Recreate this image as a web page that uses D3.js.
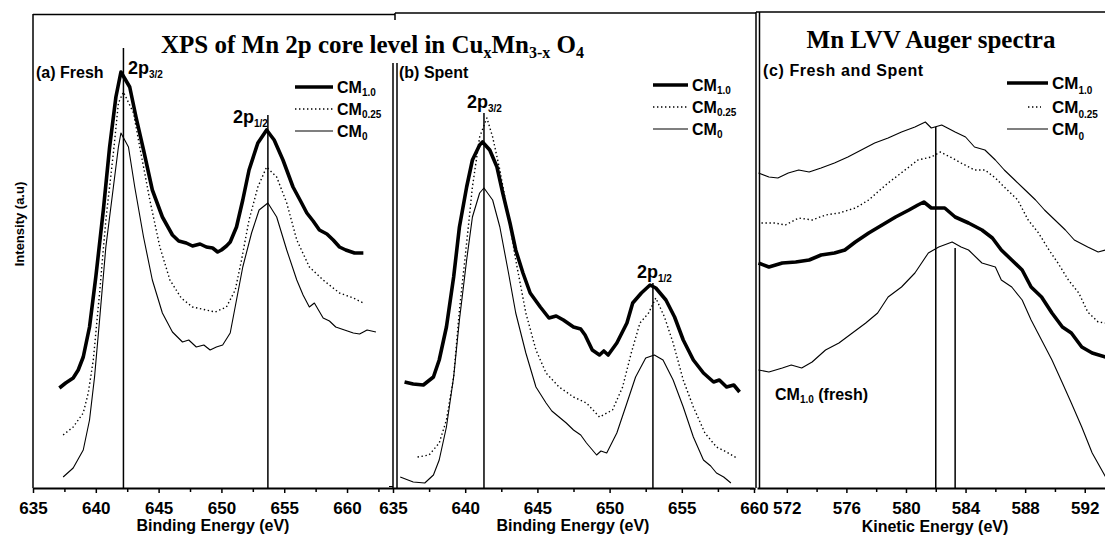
<!DOCTYPE html>
<html>
<head>
<meta charset="utf-8">
<script src="https://cdnjs.cloudflare.com/ajax/libs/d3/7.8.5/d3.min.js"></script>
<style>
  body { margin: 0; background: #fff; }
  text { font-family: "Liberation Sans", Arial, sans-serif; font-weight: bold; fill: #000; }
  .serif { font-family: "Liberation Serif", "Times New Roman", serif; }
</style>
</head>
<body>
<svg id="chart" width="1105" height="535"></svg>
<script>
"use strict";

// tick labels
var bindingTicks = [635, 640, 645, 650, 655, 660];
var bindingMinorA = [637.5, 642.5, 647.5, 652.5, 657.5, 662.5];
var bindingMinorB = [637.5, 642.5, 647.5, 652.5, 657.5];
var kineticTicks = [572, 576, 580, 584, 588, 592];
var kineticMinor = [574, 578, 582, 586, 590];

// (a) fresh, Mn 2p  [binding energy eV, intensity a.u.]
var freshCM10 = [[637.1,20.0],[637.6,21.0],[638.2,22.0],[638.6,23.6],[639.0,26.2],[639.5,32.2],[640.0,42.2],[640.6,55.6],[641.1,68.2],[641.6,78.2],[642.0,83.2],[642.7,80.2],[643.2,74.2],[643.8,67.6],[644.5,59.6],[645.3,54.2],[646.1,50.6],[646.6,49.4],[647.2,49.0],[647.7,48.4],[648.3,48.8],[648.8,48.2],[649.3,48.0],[649.7,47.2],[650.0,47.6],[650.4,48.4],[650.7,49.2],[651.2,52.2],[651.7,57.6],[652.2,63.6],[652.9,69.0],[653.6,71.6],[654.2,69.6],[654.9,65.6],[655.7,60.2],[656.3,57.4],[656.8,55.0],[657.3,53.4],[657.8,51.6],[658.4,50.8],[658.9,49.6],[659.4,48.2],[659.9,47.6],[660.6,47.0],[661.3,47.0]];
var freshCM025 = [[637.4,10.6],[638.2,12.2],[639.0,15.0],[639.4,19.0],[639.8,25.6],[640.3,39.0],[640.8,53.6],[641.4,67.0],[641.8,77.0],[642.2,79.2],[643.0,75.0],[643.5,68.2],[644.3,57.6],[645.1,48.2],[645.9,41.6],[646.8,38.0],[647.7,36.2],[648.8,35.6],[649.5,35.2],[650.4,36.2],[651.1,39.6],[651.6,45.6],[652.2,53.6],[652.9,60.2],[653.6,64.2],[654.4,62.2],[655.2,57.0],[656.0,49.6],[657.0,44.2],[658.1,41.6],[659.4,39.0],[660.5,38.0],[661.3,37.0]];
var freshCM0 = [[637.4,2.2],[638.2,4.0],[639.0,7.6],[639.5,13.6],[639.9,22.2],[640.3,33.6],[640.8,48.2],[641.4,60.2],[641.8,68.2],[642.0,71.0],[642.6,68.2],[643.1,60.2],[643.8,50.2],[644.5,41.6],[645.3,35.0],[646.1,31.2],[646.9,29.2],[647.4,29.6],[648.0,28.2],[648.6,28.6],[649.1,27.6],[649.6,28.2],[650.1,28.6],[650.7,31.0],[651.2,37.6],[651.7,44.2],[652.4,51.0],[653.0,55.6],[653.7,57.0],[654.4,54.2],[655.2,47.6],[656.0,41.6],[656.5,38.6],[657.0,36.2],[657.4,37.0],[658.1,34.0],[658.6,33.4],[659.1,32.2],[659.8,31.6],[660.5,31.0],[661.0,30.8],[661.6,31.6],[662.3,31.2]];

// (b) spent, Mn 2p
var spentCM10 = [[635.8,21.2],[636.4,20.8],[637.1,20.6],[637.8,22.2],[638.2,25.6],[638.7,32.2],[639.2,42.2],[639.6,52.2],[640.1,60.2],[640.5,65.6],[641.0,68.6],[641.2,69.2],[641.7,67.6],[642.2,64.2],[642.6,59.0],[643.1,53.0],[643.5,47.6],[644.0,43.0],[644.5,39.0],[645.2,36.2],[645.8,34.0],[646.3,34.4],[646.8,33.6],[647.5,32.2],[648.0,31.8],[648.3,30.6],[648.8,27.6],[649.3,26.6],[649.6,27.4],[649.9,26.6],[650.5,29.0],[651.2,33.0],[651.6,37.0],[652.2,39.0],[652.8,40.6],[653.2,40.0],[653.9,37.6],[654.5,34.2],[655.1,29.6],[655.8,25.6],[656.5,23.0],[657.2,21.2],[657.6,21.6],[658.1,20.2],[658.6,20.6],[659.0,19.2]];
var spentCM025 = [[636.7,6.2],[637.5,6.6],[638.2,9.0],[638.7,13.6],[639.2,22.2],[639.6,35.6],[640.1,49.0],[640.5,60.2],[641.0,70.2],[641.5,74.0],[641.9,70.2],[642.4,63.6],[643.0,54.2],[643.5,45.6],[644.2,35.0],[644.9,27.6],[645.6,23.0],[646.5,20.2],[647.5,18.2],[648.4,17.0],[649.3,14.2],[650.2,15.6],[650.9,20.2],[651.5,27.0],[652.1,33.0],[652.7,35.0],[653.2,38.0],[653.8,34.2],[654.4,29.0],[655.1,21.6],[655.8,16.2],[656.6,11.0],[657.4,8.2],[658.1,7.2],[658.8,6.0]];
var spentCM0 = [[635.5,2.2],[636.4,1.2],[637.2,1.0],[637.8,2.6],[638.2,5.6],[638.7,12.2],[639.2,22.2],[639.6,33.6],[640.1,45.6],[640.5,54.2],[641.0,59.0],[641.3,60.0],[641.9,57.6],[642.4,52.2],[643.0,43.0],[643.5,35.0],[644.2,27.0],[644.9,20.2],[645.6,17.0],[646.0,15.4],[646.5,14.2],[647.0,13.0],[647.5,11.6],[648.0,10.6],[648.4,9.0],[649.1,6.6],[649.4,7.4],[649.8,7.0],[650.5,11.0],[651.2,17.0],[651.8,22.2],[652.5,26.0],[653.1,26.6],[653.7,25.6],[654.4,21.6],[655.1,16.2],[655.8,10.2],[656.5,5.6],[657.0,4.4],[657.4,3.0],[657.9,2.2],[658.4,1.0]];

// (c) Mn LVV Auger  [kinetic energy eV, intensity a.u.]
var augerCM0 = [[570.1,63.0],[570.8,62.2],[571.4,62.0],[572.1,63.0],[572.8,63.6],[573.5,63.2],[574.3,64.0],[575.2,65.0],[576.1,66.2],[577.0,67.6],[577.9,69.0],[578.8,70.0],[579.7,71.2],[580.6,72.2],[581.3,73.2],[581.7,72.0],[582.4,72.6],[583.3,71.2],[584.0,70.2],[584.6,68.2],[585.3,67.6],[586.0,65.6],[586.6,63.6],[587.3,61.6],[588.0,59.6],[588.7,57.6],[589.3,55.6],[590.0,53.6],[590.7,51.6],[591.3,49.6],[592.2,48.2],[592.9,47.2],[593.4,47.6]];
var augerCM025 = [[570.3,53.0],[571.2,53.0],[571.9,52.6],[572.8,54.0],[573.7,53.6],[574.6,54.6],[575.5,55.0],[576.6,56.0],[577.5,57.6],[578.1,59.2],[578.8,61.0],[579.5,62.6],[580.2,64.2],[580.8,65.6],[581.7,66.2],[582.3,67.2],[583.1,66.0],[583.7,65.0],[584.6,63.6],[585.3,63.6],[586.0,62.0],[586.6,60.2],[587.5,57.6],[588.2,53.6],[588.9,51.0],[589.6,47.6],[590.2,45.0],[590.9,41.6],[591.6,39.0],[592.2,35.2],[592.9,33.2],[593.4,33.0]];
var augerCM10 = [[570.1,45.0],[570.8,44.2],[571.7,45.0],[572.6,45.2],[573.5,45.6],[574.3,46.6],[575.2,47.0],[575.9,47.6],[576.6,49.2],[577.5,51.0],[578.4,52.6],[579.3,54.2],[580.2,55.6],[580.8,56.6],[581.2,57.2],[581.7,56.0],[582.6,56.0],[583.3,54.2],[584.2,53.0],[585.1,51.6],[585.8,50.0],[586.4,47.6],[587.1,45.6],[587.8,43.6],[588.4,40.2],[589.1,38.2],[589.8,35.0],[590.5,32.2],[591.1,31.0],[591.8,28.2],[592.5,27.0],[593.4,26.2]];
var augerCM10Fresh = [[570.1,23.6],[570.8,23.2],[571.7,24.0],[572.3,24.6],[573.0,24.0],[573.7,25.2],[574.6,27.6],[575.5,29.0],[576.4,31.0],[577.3,33.0],[578.1,35.0],[578.8,38.2],[579.7,40.2],[580.6,43.0],[581.5,47.0],[582.2,48.2],[583.1,49.2],[583.7,48.2],[584.2,47.6],[585.1,45.0],[586.0,44.2],[586.4,41.6],[587.1,40.2],[587.8,37.6],[588.4,33.6],[589.1,29.6],[589.8,25.6],[590.5,21.0],[591.1,17.0],[591.8,12.2],[592.5,7.0],[593.4,2.2]];

// peak marker lines [energy, top intensity]
var markersA = [[642.2, 88], [653.7, 74.6]];
var markersB = [[641.3, 75], [653.0, 41]];
var markersC = [[582.0, 72.2], [583.3, 48]];

var svg = d3.select("#chart");
var y = d3.scaleLinear().domain([0, 94.6]).range([488, 15]);

var xA = d3.scaleLinear().domain([635, 663.66]).range([33, 393]);
var xB = d3.scaleLinear().domain([635, 660]).range([393, 754]);
var xC = d3.scaleLinear().domain([570, 593.36]).range([757, 1105]);

var styles = {
  thick: { w: 3.6, dash: null },
  dot: { w: 1.4, dash: "1.4,2.6" },
  thin: { w: 1.1, dash: null }
};

function drawAxis(x, major, minor) {
  var m = svg.append("g").attr("transform", "translate(0,488)");
  m.call(d3.axisBottom(x).tickValues(minor).tickSize(4).tickFormat(""));
  m.select(".domain").remove();
  m.selectAll(".tick line").attr("stroke-width", 1.5);
  var g = svg.append("g").attr("transform", "translate(0,488)");
  g.call(d3.axisBottom(x).tickValues(major).tickSize(5).tickSizeOuter(0).tickPadding(9).tickFormat(d3.format("d")));
  g.select(".domain").attr("stroke-width", 2);
  g.selectAll(".tick line").attr("stroke-width", 1.5);
  g.selectAll("text").style("font-size", "17px").attr("font-family", null);
}

function drawCurve(x, data, st) {
  var line = d3.line().x(function (d) { return x(d[0]); }).y(function (d) { return y(d[1]); });
  svg.append("path").datum(data).attr("d", line).attr("fill", "none").attr("stroke", "#000")
    .attr("stroke-width", styles[st].w).attr("stroke-dasharray", styles[st].dash)
    .attr("stroke-linejoin", "round");
}

function drawMarkers(x, list) {
  svg.append("g").selectAll("line").data(list).enter().append("line")
    .attr("x1", function (d) { return x(d[0]); }).attr("x2", function (d) { return x(d[0]); })
    .attr("y1", function (d) { return y(d[1]); }).attr("y2", y(0))
    .attr("stroke", "#000").attr("stroke-width", 1.5);
}

function rich(x0, y0, parts, anchor) {
  var t = svg.append("text").attr("x", x0).attr("y", y0).attr("text-anchor", anchor || "start");
  parts.forEach(function (p) {
    t.append("tspan").attr("font-size", p[1]).attr("dy", p[2] || 0).text(p[0]);
  });
  return t;
}

function legend(x0, rows, textX, fs, subDy, gap) {
  var subs = ["1.0", "0.25", "0"];
  var st = ["thick", "dot", "thin"];
  rows.forEach(function (ry, i) {
    var len = (i === 1 && gap) ? gap : [x0, textX - 4];
    svg.append("line").attr("x1", len[0]).attr("x2", len[1]).attr("y1", ry).attr("y2", ry)
      .attr("stroke", "#000").attr("stroke-width", styles[st[i]].w).attr("stroke-dasharray", styles[st[i]].dash);
    rich(textX, ry + 6, [["CM", fs], [subs[i], 10, subDy]]);
  });
}

function frameLine(x1, y1, x2, y2, w) {
  svg.append("line").attr("x1", x1).attr("y1", y1).attr("x2", x2).attr("y2", y2)
    .attr("stroke", "#000").attr("stroke-width", w || 1.5);
}

// ---- frames ----
frameLine(33, 14.5, 395, 14.5);
frameLine(395, 13, 395, 20);
frameLine(395, 13, 756, 13);
frameLine(33, 14, 33, 488);
frameLine(393, 63, 393, 488);
frameLine(397, 63, 397, 488);
frameLine(756, 12, 1105, 12);
frameLine(756, 12, 756, 488);
frameLine(759.5, 12, 759.5, 488);
frameLine(389, 486.5, 393, 486.5, 1);
frameLine(750, 489, 756, 489, 1);

// ---- axes ----
drawAxis(xA, bindingTicks, bindingMinorA);
drawAxis(xB, bindingTicks, bindingMinorB);
drawAxis(xC, kineticTicks, kineticMinor);

// ---- curves ----
drawCurve(xA, freshCM0, "thin");
drawCurve(xA, freshCM025, "dot");
drawCurve(xA, freshCM10, "thick");
drawMarkers(xA, markersA);

drawCurve(xB, spentCM0, "thin");
drawCurve(xB, spentCM025, "dot");
drawCurve(xB, spentCM10, "thick");
drawMarkers(xB, markersB);

drawCurve(xC, augerCM0, "thin");
drawCurve(xC, augerCM025, "dot");
drawCurve(xC, augerCM10, "thick");
drawCurve(xC, augerCM10Fresh, "thin");
drawMarkers(xC, markersC);

// ---- titles ----
rich(161, 53, [["XPS of Mn 2p core level in Cu", 25], ["x", 16, 5], ["Mn", 25, -5], ["3-x", 16, 5], [" O", 25, -5], ["4", 16, 5]]).attr("class", "serif");
rich(931, 48, [["Mn LVV Auger spectra", 25]], "middle").attr("class", "serif");

// ---- axis titles ----
svg.append("text").attr("x", 213).attr("y", 531).attr("text-anchor", "middle").style("font-size", "16px").text("Binding Energy (eV)");
svg.append("text").attr("x", 573).attr("y", 531).attr("text-anchor", "middle").style("font-size", "16px").text("Binding Energy (eV)");
svg.append("text").attr("x", 935).attr("y", 532).attr("text-anchor", "middle").style("font-size", "16px").text("Kinetic Energy (eV)");
svg.append("text").attr("transform", "translate(24,224) rotate(-90)").attr("text-anchor", "middle").style("font-size", "13px").text("Intensity (a.u)");

// ---- panel labels ----
rich(36, 78, [["(a) Fresh", 16]]);
rich(128, 74, [["2p", 18], ["3/2", 10, 4]]);
rich(233, 123, [["2p", 18], ["1/2", 10, 4]]);
rich(399, 78, [["(b) Spent", 16]]);
rich(467, 108, [["2p", 18], ["3/2", 10, 4]]);
rich(637, 278, [["2p", 18], ["1/2", 10, 4]]);
rich(763, 76, [["(c) Fresh and Spent", 16]]).attr("letter-spacing", 0.6);
rich(775, 400, [["CM", 16], ["1.0", 10, 3], [" (fresh)", 16, -3]]);

legend(295, [87, 109, 131], 337, 16, 3);
legend(653, [85, 107, 129], 692, 16, 3);
legend(1007, [83, 107, 129], 1052, 17, 5, [1028, 1041]);
</script>
</body>
</html>
